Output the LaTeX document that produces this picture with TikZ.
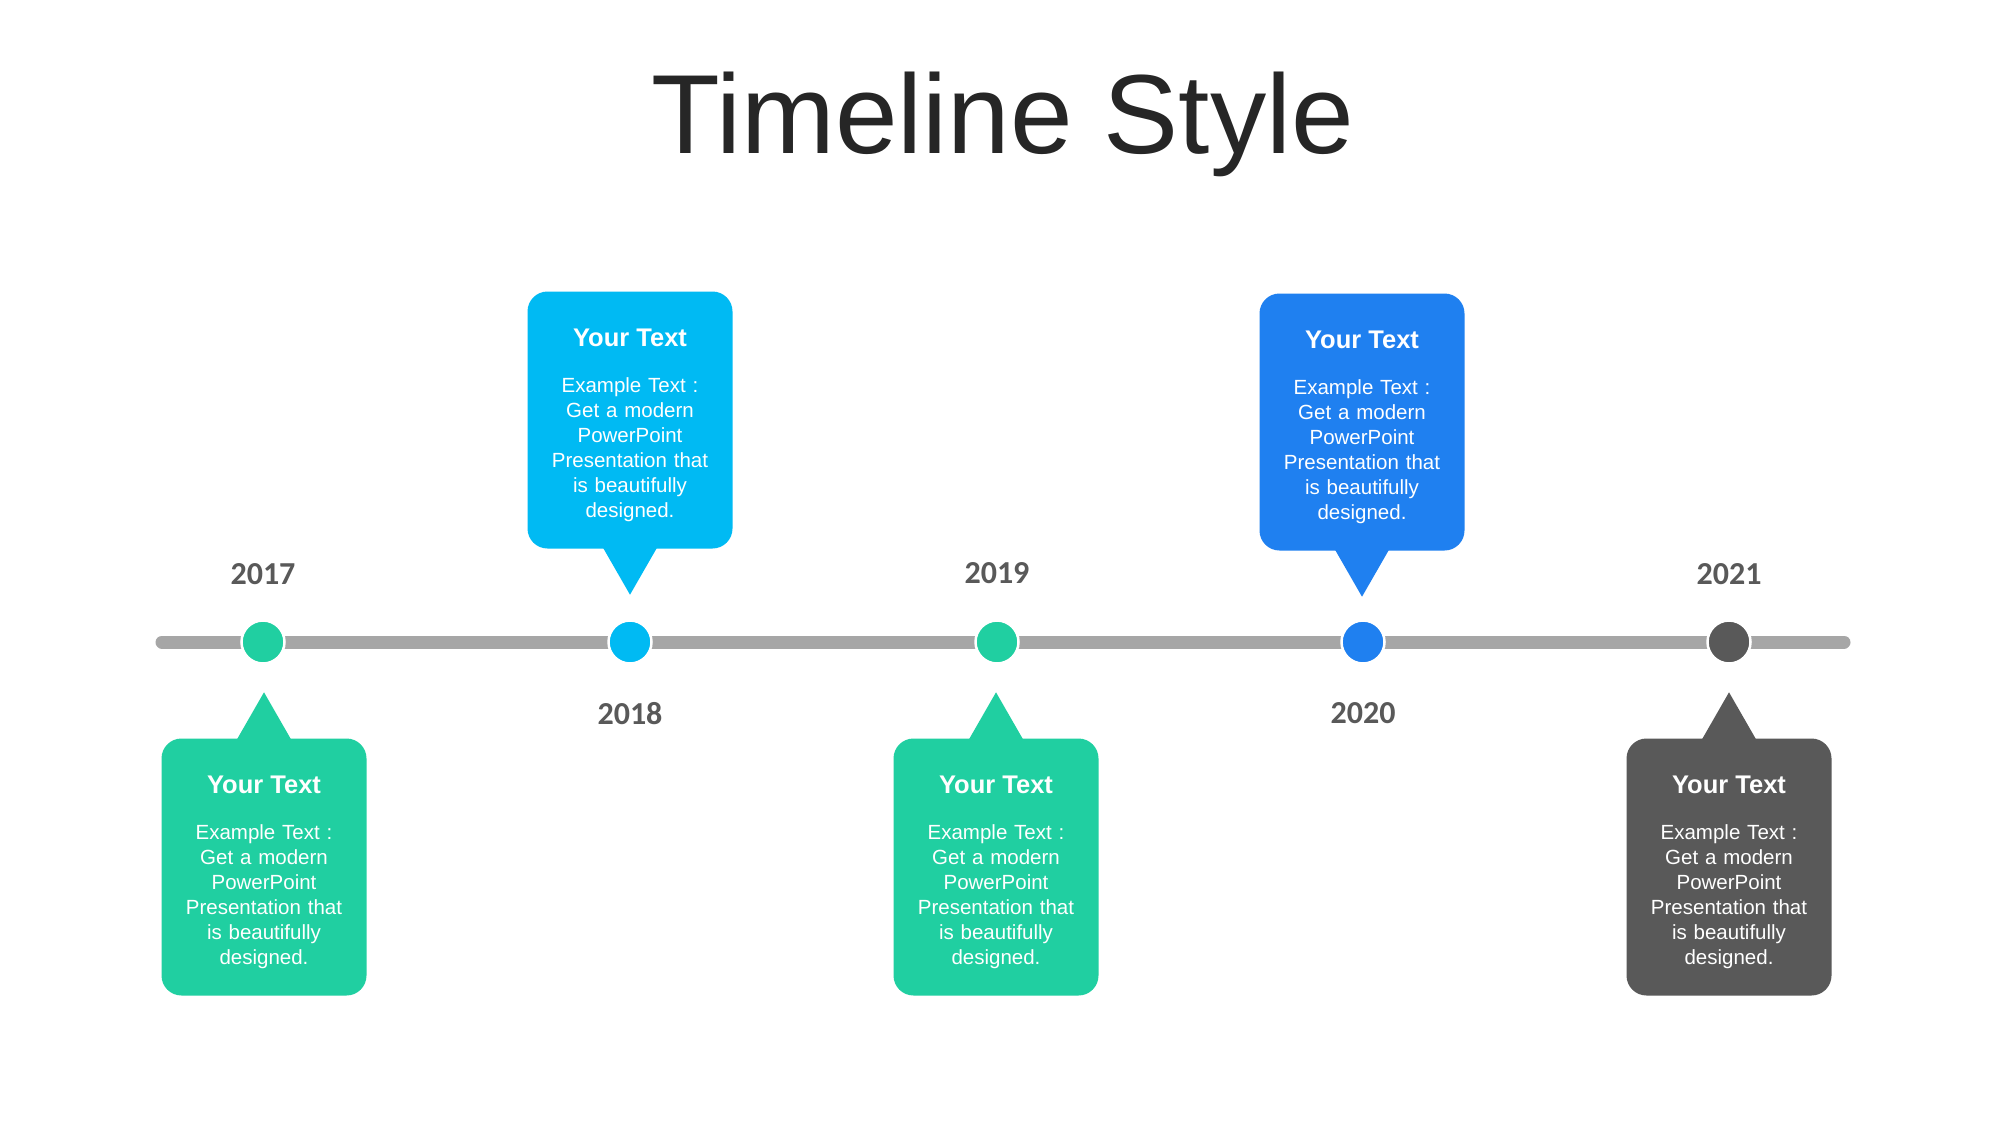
\documentclass[tikz,border=0pt]{standalone}
\usepackage{fontspec}
\setmainfont{Liberation Sans}
\newfontfamily\yearfont{Carlito}
\usetikzlibrary{calc}
\definecolor{titlecol}{HTML}{262626}
\definecolor{linecol}{HTML}{A6A6A6}
\definecolor{yearcol}{HTML}{595959}
\definecolor{cgreen}{HTML}{20CFA1}
\definecolor{clight}{HTML}{00BAF3}
\definecolor{cblue}{HTML}{1F80F0}
\definecolor{cgray}{HTML}{595959}
\begin{document}
\begin{tikzpicture}[x=1pt,y=-1pt,
  dot/.style={circle,draw=white,line width=2.5pt,minimum size=43pt,inner sep=0pt},
  box/.style={rectangle,rounded corners=20pt,minimum width=205pt,minimum height=257pt,inner sep=0pt},
  boxtitle/.style={text=white,font=\bfseries\fontsize{25.5}{30}\selectfont},
  boxbody/.style={text=white,align=center,text width=200pt,font=\fontsize{20.5}{25}\selectfont},
  year/.style={text=yearcol,font=\yearfont\bfseries\fontsize{32}{38}\selectfont}]
\useasboundingbox[fill=white] (0,0) rectangle (2001,1125);
\node[text=titlecol,anchor=base,font=\fontsize{112.5}{134}\selectfont] (title) at (1003,153) {Timeline Style};
% line
\coordinate (L) at (162,642);
\coordinate (R) at (1844,642);
\draw[linecol,line width=13pt,line cap=round] (L) -- (R);
% dots
\node[dot,fill=cgreen] (d1) at (263,642) {};
\node[dot,fill=clight] (d2) at (630,642) {};
\node[dot,fill=cgreen] (d3) at (997,642) {};
\node[dot,fill=cblue]  (d4) at (1363,642) {};
\node[dot,fill=cgray]  (d5) at (1729,642) {};
% years
\node[year] (y1) at ($(d1)+(0,-68)$) {2017};
\node[year] (y2) at ($(d2)+(0,72)$) {2018};
\node[year] (y3) at ($(d3)+(0,-69)$) {2019};
\node[year] (y4) at ($(d4)+(0,71)$) {2020};
\node[year] (y5) at ($(d5)+(0,-68)$) {2021};
% boxes
\node[box,fill=cgreen] (b1) at (264,867) {};
\node[box,fill=clight] (b2) at (630,420) {};
\node[box,fill=cgreen] (b3) at (996,867) {};
\node[box,fill=cblue]  (b4) at (1362,422) {};
\node[box,fill=cgray]  (b5) at (1729,867) {};
% pointers
\foreach \b/\c in {b1/cgreen,b3/cgreen,b5/cgray}{
  \fill[\c] ($(\b.north)+(-27,1)$) -- ($(\b.north)+(27,1)$) -- ($(\b.north)+(0,-46)$) -- cycle;
}
\foreach \b/\c in {b2/clight,b4/cblue}{
  \fill[\c] ($(\b.south)+(-27,-1)$) -- ($(\b.south)+(27,-1)$) -- ($(\b.south)+(0,46)$) -- cycle;
}
% texts
\foreach \b in {b1,b2,b3,b4,b5}{
  \node[boxtitle] (\b t) at ($(\b.north)+(0,47)$) {Your Text};
  \node[boxbody] (\b x) at ($(\b.center)+(0,30)$) {Example Text :\\Get a modern\\PowerPoint\\Presentation that\\is beautifully\\designed.};
}
\end{tikzpicture}
\end{document}
